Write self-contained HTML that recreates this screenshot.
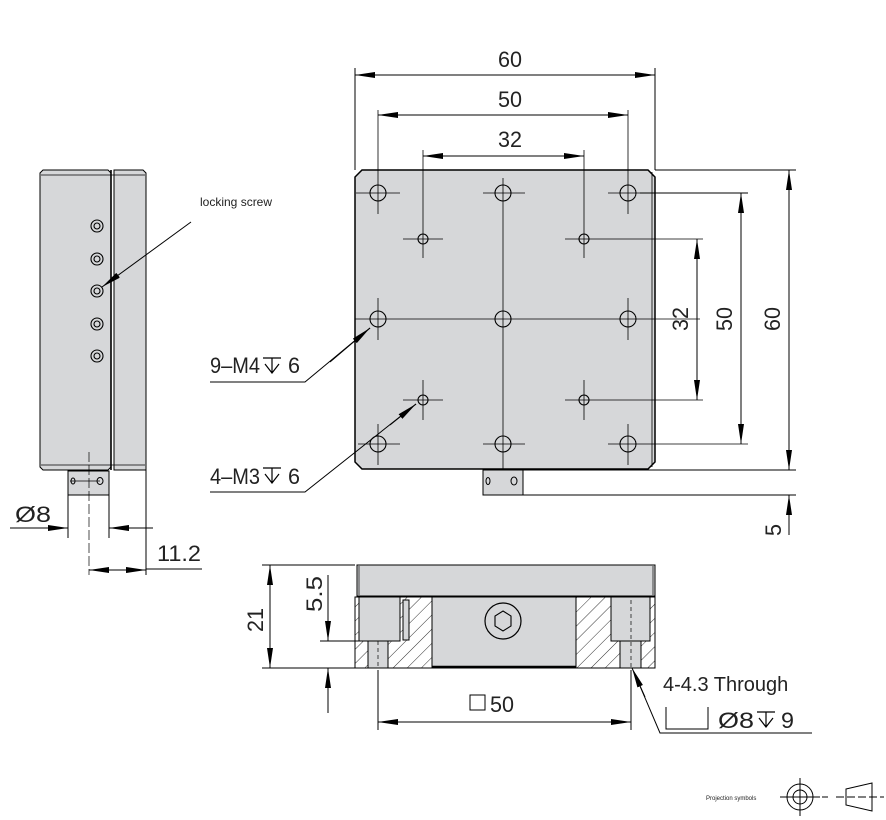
<!DOCTYPE html>
<html><head><meta charset="utf-8"><style>
html,body{margin:0;padding:0;background:#fff}
svg{display:block}
text{font-family:"Liberation Sans",sans-serif;fill:#222}
</style></head><body>
<svg width="886" height="820" viewBox="0 0 886 820" xmlns="http://www.w3.org/2000/svg">
<defs>
<marker id="a" viewBox="0 0 20 6" refX="20" refY="3" markerWidth="20" markerHeight="6" markerUnits="userSpaceOnUse" orient="auto-start-reverse"><path d="M0,0 L20,3 L0,6 z" fill="#000"/></marker>
<pattern id="h" width="10" height="10" patternUnits="userSpaceOnUse" patternTransform="rotate(45)"><line x1="0" y1="0" x2="0" y2="10" stroke="#333" stroke-width="1"/></pattern>
</defs>
<g stroke="#000" stroke-width="1" fill="none">
<!-- TOP VIEW -->
<path d="M362,170 H648 L655,177 V462 L648,469 H362 L355,462 V177 Z" fill="#d6d7d9" stroke-width="1.5"/>
<line x1="652" y1="172" x2="652" y2="467" stroke-width="0.8"/>
<rect x="483" y="470" width="40" height="25" fill="#d6d7d9"/>
<ellipse cx="488" cy="481" rx="2" ry="3.5"/><ellipse cx="514" cy="481" rx="3" ry="4"/>
<line x1="355" y1="319" x2="700" y2="319" stroke-width="0.8"/>
<line x1="503" y1="178" x2="503" y2="460" stroke-width="0.8"/>
<g stroke-width="0.8">
<line x1="378" y1="110" x2="378" y2="214"/><line x1="628" y1="110" x2="628" y2="214"/>
<line x1="423" y1="150" x2="423" y2="258"/><line x1="584" y1="150" x2="584" y2="258"/>
<line x1="356" y1="193" x2="400" y2="193"/><line x1="483" y1="193" x2="525" y2="193"/><line x1="608" y1="193" x2="660" y2="193"/>
<line x1="403" y1="239" x2="443" y2="239"/><line x1="565" y1="239" x2="703" y2="239"/>
<line x1="378" y1="298" x2="378" y2="340"/><line x1="628" y1="298" x2="628" y2="340"/>
<line x1="423" y1="380" x2="423" y2="420"/><line x1="584" y1="380" x2="584" y2="420"/>
<line x1="403" y1="400" x2="443" y2="400"/><line x1="565" y1="400" x2="703" y2="400"/>
<line x1="378" y1="424" x2="378" y2="465"/><line x1="628" y1="424" x2="628" y2="465"/>
<line x1="358" y1="444" x2="400" y2="444"/><line x1="483" y1="444" x2="525" y2="444"/><line x1="608" y1="444" x2="748" y2="444"/>
<line x1="503" y1="460" x2="503" y2="470"/>
</g>
<g stroke-width="1.1">
<circle cx="378" cy="193" r="8"/><circle cx="503" cy="193" r="8"/><circle cx="628" cy="193" r="8"/>
<circle cx="378" cy="319" r="8"/><circle cx="503" cy="319" r="8"/><circle cx="628" cy="319" r="8"/>
<circle cx="378" cy="444" r="8"/><circle cx="503" cy="444" r="8"/><circle cx="628" cy="444" r="8"/>
<circle cx="423" cy="239" r="5"/><circle cx="584" cy="239" r="5"/>
<circle cx="423" cy="400" r="5"/><circle cx="584" cy="400" r="5"/>
</g>
<line x1="355" y1="68" x2="355" y2="170"/><line x1="655" y1="68" x2="655" y2="170"/>
<line x1="355" y1="75" x2="655" y2="75" marker-start="url(#a)" marker-end="url(#a)"/>
<line x1="378" y1="115" x2="628" y2="115" marker-start="url(#a)" marker-end="url(#a)"/>
<line x1="423" y1="156" x2="584" y2="156" marker-start="url(#a)" marker-end="url(#a)"/>
<line x1="655" y1="170" x2="796" y2="170"/><line x1="640" y1="193" x2="748" y2="193"/>
<line x1="523" y1="470" x2="796" y2="470"/><line x1="523" y1="495" x2="796" y2="495"/>
<line x1="697" y1="239" x2="697" y2="400" marker-start="url(#a)" marker-end="url(#a)"/>
<line x1="741" y1="193" x2="741" y2="444" marker-start="url(#a)" marker-end="url(#a)"/>
<line x1="789" y1="170" x2="789" y2="470" marker-start="url(#a)" marker-end="url(#a)"/>
<line x1="789" y1="535" x2="789" y2="495" marker-end="url(#a)"/>
<polyline points="210,382 305,382 370,328"/><line x1="330" y1="362" x2="370" y2="328" marker-end="url(#a)"/>
<polyline points="210,492 305,492 416,404"/><line x1="390" y1="425" x2="416" y2="404" marker-end="url(#a)"/>
<!-- depth symbols -->
<g stroke-width="1.2">
<path d="M263,358 H281 M272,358 V373 M265,364 L272,373 L279,364"/>
<path d="M263,468 H281 M272,468 V483 M265,474 L272,483 L279,474"/>
<path d="M757,712 H775 M766,712 V727 M759,718 L766,727 L773,718"/>
</g>
<!-- SIDE VIEW -->
<path d="M43,170 H108 L111,173 V467 L108,470 H43 L40,467 V173 Z" fill="#d6d7d9"/>
<path d="M114,170 H143 L146,173 V470 H114 V173 Z" fill="#d6d7d9"/>
<line x1="41" y1="175" x2="145" y2="175" stroke-width="0.7"/>
<line x1="41" y1="465" x2="145" y2="465" stroke-width="0.7"/>
<line x1="111" y1="170" x2="111" y2="470" stroke-width="1.6"/>
<rect x="68" y="471" width="41" height="24" fill="#d6d7d9"/>
<line x1="89" y1="452" x2="89" y2="575" stroke-width="0.7" stroke-dasharray="10 3"/>
<line x1="70" y1="481" x2="100" y2="481" stroke-width="0.7"/>
<ellipse cx="73" cy="481" rx="2" ry="3"/><ellipse cx="100" cy="481" rx="3" ry="3.5"/>
<g stroke-width="1.1">
<circle cx="97" cy="226" r="6"/><circle cx="97" cy="226" r="3"/>
<circle cx="97" cy="259" r="6"/><circle cx="97" cy="259" r="3"/>
<circle cx="97" cy="291" r="6"/><circle cx="97" cy="291" r="3"/>
<circle cx="97" cy="324" r="6"/><circle cx="97" cy="324" r="3"/>
<circle cx="97" cy="356" r="6"/><circle cx="97" cy="356" r="3"/>
</g>
<line x1="191" y1="222" x2="102" y2="287" marker-end="url(#a)"/>
<line x1="68" y1="495" x2="68" y2="538"/><line x1="109" y1="495" x2="109" y2="538"/><line x1="146" y1="470" x2="146" y2="575"/>
<line x1="10" y1="528" x2="68" y2="528" marker-end="url(#a)"/><line x1="153" y1="528" x2="109" y2="528" marker-end="url(#a)"/>
<line x1="89" y1="570" x2="146" y2="570" marker-start="url(#a)" marker-end="url(#a)"/>
<line x1="146" y1="569" x2="202" y2="569"/>
<!-- FRONT VIEW -->
<rect x="357" y="565" width="298" height="31" fill="#d6d7d9"/>
<line x1="359" y1="566" x2="359" y2="595" stroke-width="0.7"/>
<line x1="653" y1="566" x2="653" y2="595" stroke-width="0.7"/>
<rect x="355" y="597" width="300" height="71" fill="url(#h)"/>
<rect x="432" y="597" width="144" height="71" fill="#d6d7d9"/>
<line x1="432" y1="667" x2="576" y2="667" stroke-width="2.5"/>
<rect x="359" y="597" width="41" height="44" fill="#d6d7d9"/>
<rect x="403" y="600" width="6" height="40" fill="#d6d7d9"/>
<rect x="611" y="597" width="39" height="44" fill="#d6d7d9"/>
<rect x="368" y="641" width="20" height="27" fill="#d6d7d9"/>
<rect x="620" y="641" width="21" height="27" fill="#d6d7d9"/>
<line x1="378" y1="641" x2="378" y2="668" stroke-dasharray="4 3" stroke-width="0.7"/>
<line x1="631" y1="600" x2="631" y2="668" stroke-dasharray="4 3" stroke-width="0.7"/>
<rect x="355" y="597" width="300" height="71"/>
<circle cx="503" cy="621" r="18" fill="#d6d7d9" stroke-width="1.2"/>
<polygon points="503,611 511,616 511,626 503,631 495,626 495,616" stroke-width="1.1"/>
<line x1="262" y1="565" x2="355" y2="565"/><line x1="262" y1="668" x2="355" y2="668"/>
<line x1="270" y1="565" x2="270" y2="668" marker-start="url(#a)" marker-end="url(#a)"/>
<line x1="320" y1="641" x2="360" y2="641"/>
<line x1="328" y1="575" x2="328" y2="641" marker-end="url(#a)"/>
<line x1="328" y1="713" x2="328" y2="668" marker-end="url(#a)"/>
<line x1="378" y1="670" x2="378" y2="730"/><line x1="631" y1="670" x2="631" y2="730"/>
<line x1="378" y1="722" x2="631" y2="722" marker-start="url(#a)" marker-end="url(#a)"/>
<polyline points="812,733 660,733 634,672"/><line x1="645" y1="697" x2="632" y2="668" marker-end="url(#a)"/>
<rect x="470" y="695" width="15" height="15"/>
<polyline points="666,707 666,729 708,729 708,707"/>
<circle cx="800" cy="797" r="13"/><circle cx="800" cy="797" r="7"/>
<line x1="780" y1="797" x2="820" y2="797"/><line x1="800" y1="778" x2="800" y2="816"/>
<line x1="822" y1="797" x2="828" y2="797"/>
<polygon points="846,789 872,783 872,811 846,805"/>
<line x1="836" y1="797" x2="884" y2="797" stroke-dasharray="8 3"/>
</g>
<g font-size="22">
<text x="498" y="67" textLength="24" lengthAdjust="spacingAndGlyphs">60</text>
<text x="498" y="107" textLength="24" lengthAdjust="spacingAndGlyphs">50</text>
<text x="498" y="147" textLength="24" lengthAdjust="spacingAndGlyphs">32</text>
<text transform="translate(688,331) rotate(-90)" textLength="24" lengthAdjust="spacingAndGlyphs">32</text>
<text transform="translate(732,331) rotate(-90)" textLength="24" lengthAdjust="spacingAndGlyphs">50</text>
<text transform="translate(780,331) rotate(-90)" textLength="24" lengthAdjust="spacingAndGlyphs">60</text>
<text transform="translate(781,536) rotate(-90)" textLength="12" lengthAdjust="spacingAndGlyphs">5</text>
<text x="210" y="373" textLength="50" lengthAdjust="spacingAndGlyphs">9–M4</text>
<text x="288" y="373" textLength="12" lengthAdjust="spacingAndGlyphs">6</text>
<text x="210" y="484" textLength="50" lengthAdjust="spacingAndGlyphs">4–M3</text>
<text x="288" y="484" textLength="12" lengthAdjust="spacingAndGlyphs">6</text>
<text x="15" y="522" textLength="36" lengthAdjust="spacingAndGlyphs">Ø8</text>
<text x="157" y="561" textLength="44" lengthAdjust="spacingAndGlyphs">11.2</text>
<text transform="translate(263,632) rotate(-90)" textLength="24" lengthAdjust="spacingAndGlyphs">21</text>
<text transform="translate(322,612) rotate(-90)" textLength="36" lengthAdjust="spacingAndGlyphs">5.5</text>
<text x="490" y="712" textLength="24" lengthAdjust="spacingAndGlyphs">50</text>
<text x="718" y="728" textLength="36" lengthAdjust="spacingAndGlyphs">Ø8</text>
<text x="781" y="728" textLength="13" lengthAdjust="spacingAndGlyphs">9</text>
</g>
<text x="663" y="691" font-size="20" fill="#333">4-4.3 Through</text>
<text x="200" y="206" font-size="12" fill="#555">locking screw</text>
<text x="706" y="800" font-size="6" fill="#777">Projection symbols</text>
</svg>
</body></html>
